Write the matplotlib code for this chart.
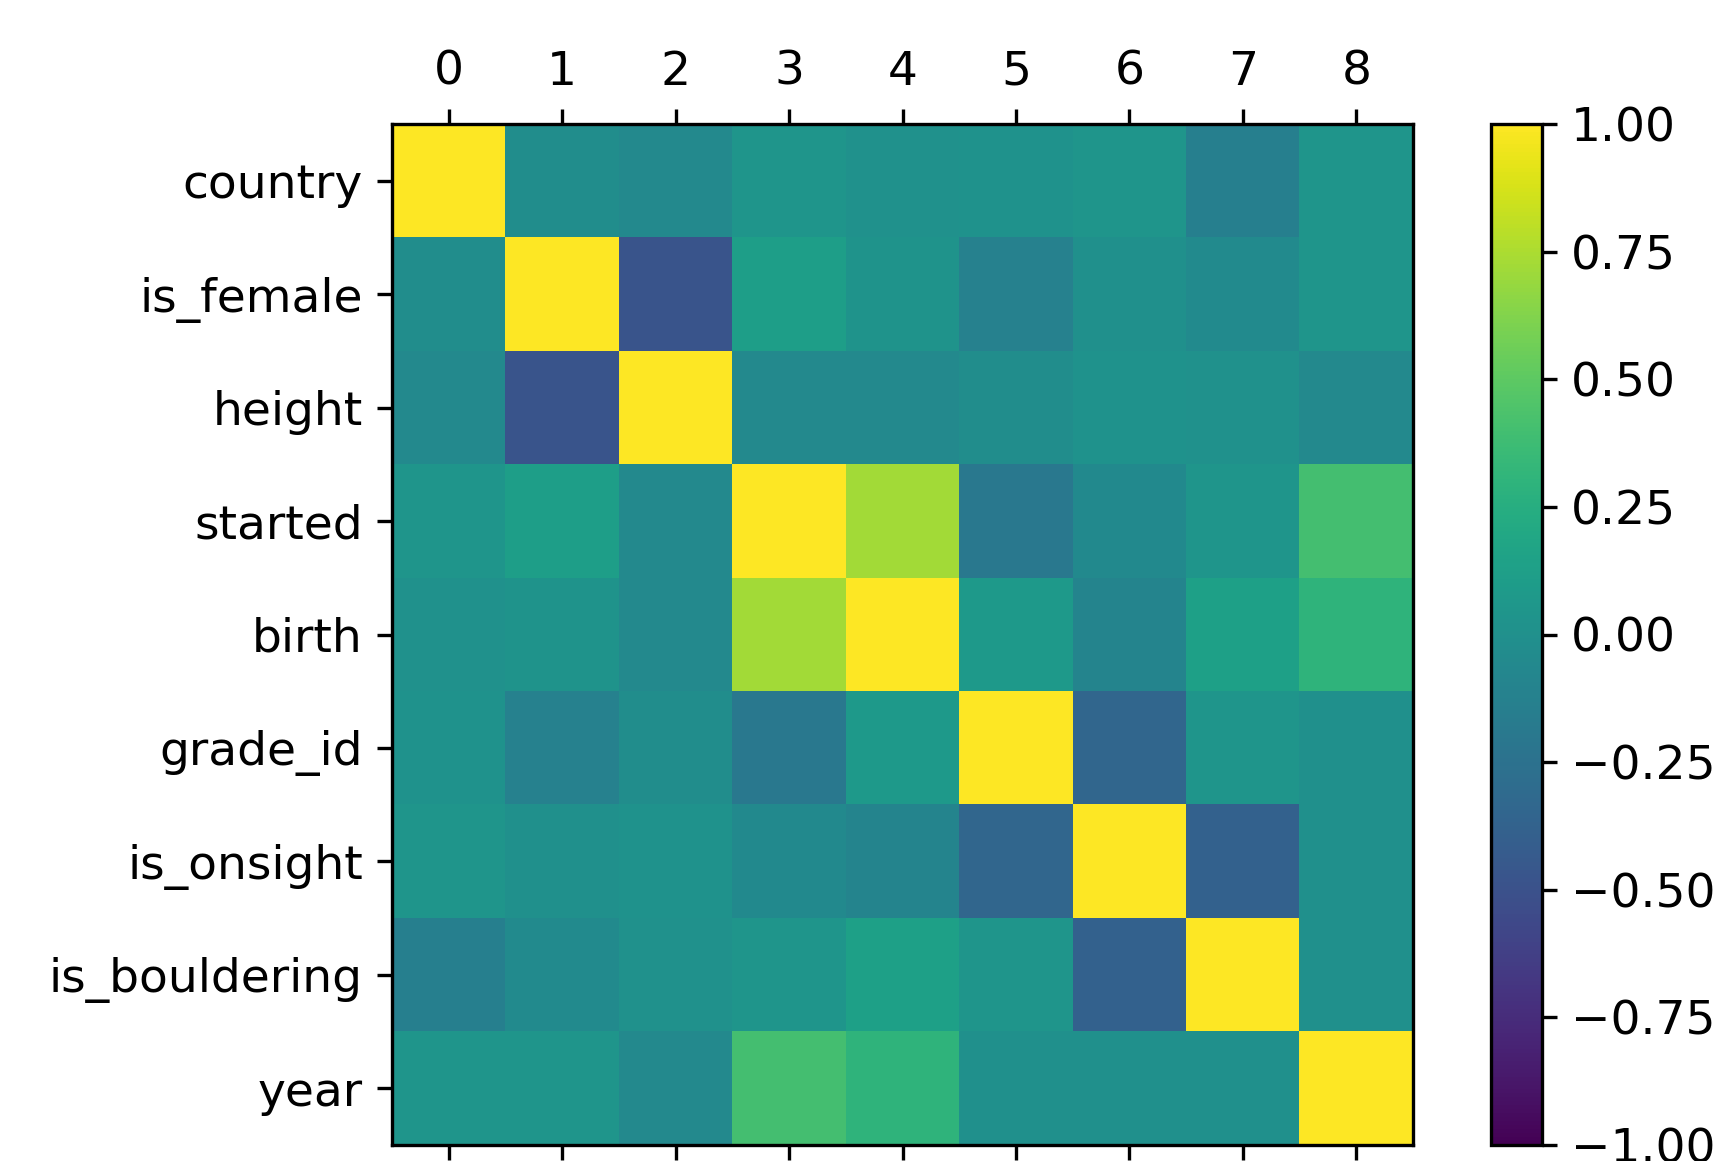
import numpy as np
import matplotlib
matplotlib.use("Agg")
import matplotlib.pyplot as plt

# Column names of the correlation matrix
labels = ["country", "is_female", "height", "started", "birth",
          "grade_id", "is_onsight", "is_bouldering", "year"]

# Correlation values (row by row)
r_country = [1.00, -0.02, -0.06, 0.04, 0.01, 0.02, 0.04, -0.14, 0.04]
r_female = [-0.02, 1.00, -0.48, 0.12, 0.03, -0.12, 0.00, -0.04, 0.04]
r_height = [-0.06, -0.48, 1.00, -0.06, -0.06, -0.02, 0.02, 0.01, -0.06]
r_started = [0.04, 0.12, -0.06, 1.00, 0.72, -0.20, -0.05, 0.04, 0.40]
r_birth = [0.01, 0.03, -0.06, 0.72, 1.00, 0.08, -0.10, 0.14, 0.30]
r_grade = [0.02, -0.12, -0.02, -0.20, 0.08, 1.00, -0.34, 0.04, 0.00]
r_onsight = [0.04, 0.00, 0.02, -0.05, -0.10, -0.34, 1.00, -0.38, 0.00]
r_boulder = [-0.14, -0.04, 0.01, 0.04, 0.14, 0.04, -0.38, 1.00, 0.00]
r_year = [0.04, 0.04, -0.06, 0.40, 0.30, 0.00, 0.00, 0.00, 1.00]

corr = np.array([r_country, r_female, r_height, r_started, r_birth,
                 r_grade, r_onsight, r_boulder, r_year])

plt.rcParams['font.size'] = 11.3

dpi = 300
fig = plt.figure(figsize=(1727 / dpi, 1161 / dpi), dpi=dpi)

ax = fig.add_axes([392 / 1727, 16 / 1161, 1021 / 1727, 1021 / 1161])
cax = fig.add_axes([1491 / 1727, 16 / 1161, 51 / 1727, 1021 / 1161])

im = ax.matshow(corr, cmap="viridis", vmin=-1, vmax=1)
ax.set_xticks(range(len(labels)))
ax.set_yticks(range(len(labels)))
ax.set_yticklabels(labels)

fig.colorbar(im, cax=cax)

fig.savefig("out.png", dpi=dpi)
